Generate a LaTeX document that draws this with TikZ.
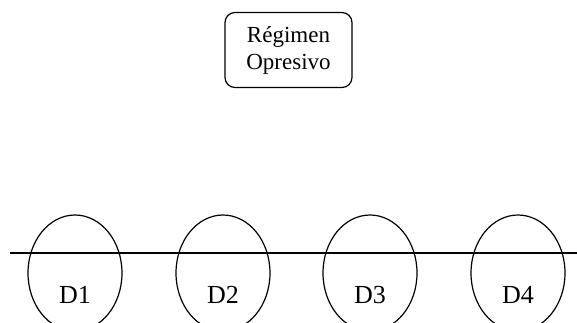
\documentclass[tikz,border=0pt]{standalone}
\usepackage{fontspec}
\setmainfont{Liberation Serif}
\usetikzlibrary{positioning, shapes.geometric}

\begin{document}
\begin{tikzpicture}[x=1pt, y=-1pt, line width=1.2pt]
\useasboundingbox (0,0) rectangle (577,322);
\clip (0,0) rectangle (577,322);
% Top box
\node[draw, rounded corners=10pt, minimum width=127pt, minimum height=75pt, align=center,
  font=\fontsize{23}{27}\selectfont] (regimen) at (288.5, 50) {Régimen\\Opresivo};

% Line and ellipses
\coordinate (lineW) at (10, 253);
\coordinate (lineE) at (577, 253);
\draw (lineW) -- (lineE);
\node[draw, ellipse, minimum width=94pt, minimum height=116pt, inner sep=0pt] (d1) at (75, 273) {};
\node[draw, ellipse, minimum width=94pt, minimum height=116pt, inner sep=0pt] (d2) at (223, 273) {};
\node[draw, ellipse, minimum width=94pt, minimum height=116pt, inner sep=0pt] (d3) at (370, 273) {};
\node[draw, ellipse, minimum width=94pt, minimum height=116pt, inner sep=0pt] (d4) at (518, 273) {};

% Labels (cut at the bottom)
\begin{scope}
\clip (0,0) rectangle (577,303);
\node[anchor=base, font=\fontsize{26}{30}\selectfont] (l1) at (75, 303) {D1};
\node[anchor=base, font=\fontsize{26}{30}\selectfont] (l2) at (223, 303) {D2};
\node[anchor=base, font=\fontsize{26}{30}\selectfont] (l3) at (370, 303) {D3};
\node[anchor=base, font=\fontsize{26}{30}\selectfont] (l4) at (518, 303) {D4};
\end{scope}
\end{tikzpicture}
\end{document}
